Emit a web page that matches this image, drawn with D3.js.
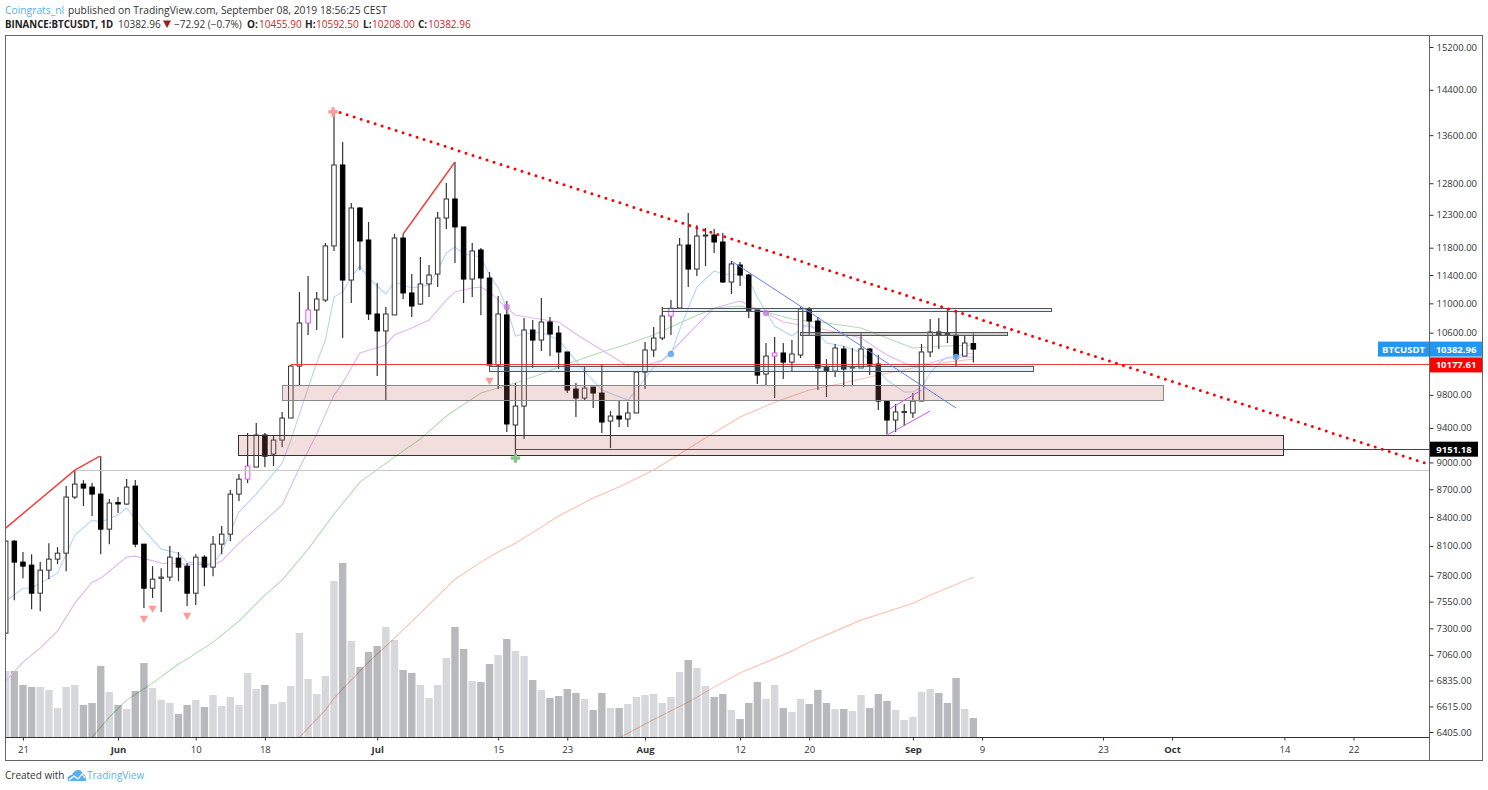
<!DOCTYPE html>
<html>
<head>
<meta charset="utf-8">
<script src="https://cdn.jsdelivr.net/npm/d3@7"></script>
<style>
  body { margin: 0; background: #fff; }
  text { font-family: "Open Sans", sans-serif; }
</style>
</head>
<body>
<div id="chart"></div>
<script>
// days are counted from May 19 2019 (day 0), Sep 8 is day 112
const opens = [7256,8149,7936,7906,7631,7856,7966,8026,8615,8757,8724,8647,8273,
  8555,8539,8735,8118,7679,7775,7787,7976,7896,7631,7986,7886,8118,8221,8647,8812,8947,9316,9095,9257,9518,10163,10730,10908,11046,11826,13098,11328,12406,11915,
  10853,10623,10840,11945,11145,10990,11272,11414,12250,12548,12113,11342,11766,11357,10176,10840,9435,9663,10636,10502,10744,10595,10345,9872,9761,9897,9823,9482,9542,9506,9579,
  10086,10371,10529,10826,10935,11840,11486,11975,11990,11885,11300,11545,11400,10908,10061,10292,10332,10214,10306,10922,10757,10150,10099,10384,10138,10138,10384,10189,9724,9494,9585,
  9579,9724,10345,10609,10596,10569,10292,10455.90];
const highs = [8159,8159,8037,8016,7936,8128,8087,8735,8913,8801,8768,9071,8593,
  8615,8812,8801,8118,7896,7876,8098,8037,7926,8016,8006,8201,8305,8691,8868,9339,9458,9339,9316,9591,10176,11159,11385,11159,11870,14005,13483,12485,12422,12189,
  11286,10949,12006,12006,11414,11662,11545,12344,12804,13147,12113,11870,11796,11443,11102,11032,9948,10798,10771,11074,10812,10690,10345,9948,10163,9897,10189,9603,9736,9712,10086,
  10476,10677,10949,11046,11945,12328,12143,12098,12082,12021,11603,11589,11414,10908,10463,10542,10463,10502,10949,10949,10812,10253,10450,10424,10397,10596,10397,10306,9724,9688,9688,
  9823,10450,10785,10798,10922,10908,10569,10592.50];
const lows = [7247,7564,7777,7479,7460,7767,7916,7846,8593,8518,8411,8016,8118,
  8443,8529,8087,7489,7583,7451,7747,7747,7508,7517,7699,7796,8016,8149,8571,8768,8947,8947,8958,9176,9518,9922,10569,10636,11018,11751,10529,11005,11472,10771,
  10036,9736,10840,11060,10812,10977,11088,11229,12082,11574,11005,11088,10840,10176,9872,9352,9071,9269,10138,10358,10292,10125,9823,9530,9736,9639,9339,9164,9411,9411,9579,
  9872,10279,10502,10569,10935,11229,11385,11530,11722,11286,11131,11243,10798,9935,9922,9761,9997,10086,10266,10569,9860,9773,10023,9897,9910,10138,10048,9615,9328,9352,9423,
  9518,9724,10279,10384,10463,10150,10292,10208];
const closes = [8149,7936,7896,7631,7856,7966,8026,8615,8757,8713,8647,8273,8550,
  8540,8724,8118,7679,7767,7787,7986,7886,7631,7986,7886,8118,8221,8647,8812,8958,9316,9071,9257,9518,10163,10730,10908,11060,11826,13098,11328,12406,11900,10853,
  10623,10853,11945,11145,10963,11272,11400,12250,12548,12113,11342,11751,11357,10176,10853,9447,9663,10636,10502,10744,10582,10345,9860,9761,9885,9823,9470,9542,9506,9579,10086,
  10371,10529,10826,10935,11840,11486,11975,11990,11885,11300,11560,11400,10894,10048,10292,10332,10214,10319,10922,10757,10138,10099,10397,10125,10150,10384,10176,9724,9494,9591,9597,
  9724,10345,10609,10569,10569,10292,10463,10382.96];
// volume, relative units
const volumes = [66,66,52,50,50,47,29,50,52,32,34,71,45,
  32,28,46,74,49,37,34,23,32,37,30,42,31,40,32,64,48,52,33,35,51,104,58,43,61,156,174,96,70,85,
  91,110,97,67,64,52,39,52,79,110,88,56,55,73,82,98,86,81,57,47,39,41,48,44,38,27,44,29,29,33,40,
  42,43,34,40,65,77,69,51,40,43,27,18,34,55,38,52,29,25,38,33,47,34,28,28,26,42,29,43,36,27,17,
  20,45,48,44,34,59,28,19];
const pinkCandles = [28, 35, 77, 89];

// moving averages as [day, price]
const blueMA = [[0,7554],[2,7679],[3,7679],[6,7826],[8,8211],[10,8368],[11,8347],[13,8422],[14,8497],[16,8263],[18,8067],[20,8026],[21,7936],[24,7916],[25,8037],[27,8454],[29,8647],[32,8992],[33,9257],[35,9885],[36,10202],[37,10502],[38,11088],[39,11159],[40,11371],[41,11530],[42,11357],[44,11131],[45,11300],[47,11215],[49,11257],[50,11472],[51,11722],[52,11811],[53,11707],[55,11662],[56,11400],[57,11215],[58,10935],[59,10556],[60,10582],[62,10609],[64,10502],[67,10099],[69,9860],[72,9736],[73,9860],[75,10150],[77,10319],[78,10636],[79,10935],[80,11229],[82,11458],[83,11414],[85,11400],[86,11328],[87,11088],[88,10880],[89,10690],[91,10556],[93,10730],[94,10596],[95,10463],[97,10424],[99,10332],[100,10240],[102,9985],[104,9835],[105,9835],[106,9897],[107,10074],[108,10202],[109,10279],[110,10279],[111,10332],[112,10319]];
const purpleMA = [[0,6830],[2,6995],[4,7120],[6,7275],[8,7536],[10,7738],[11,7777],[14,7986],[15,7996],[18,7926],[21,7916],[24,7906],[25,7946],[27,8128],[29,8284],[32,8529],[34,8936],[36,9328],[38,9798],[39,9948],[41,10332],[44,10437],[45,10569],[47,10663],[49,10771],[51,11046],[52,11159],[54,11215],[55,11229],[56,11159],[58,10935],[59,10840],[61,10798],[64,10744],[66,10582],[69,10371],[72,10163],[74,10163],[76,10240],[78,10463],[80,10703],[82,10935],[85,11032],[87,10922],[88,10867],[90,10744],[92,10703],[95,10636],[97,10582],[99,10529],[102,10306],[104,10202],[105,10163],[107,10202],[109,10266],[111,10279],[112,10279]];
const greenMA = [[10,6364],[12,6527],[14,6668],[17,6812],[20,6978],[21,7022],[24,7174],[27,7367],[30,7612],[32,7757],[35,8067],[38,8432],[41,8779],[45,9060],[48,9269],[51,9542],[55,9823],[59,9948],[62,10061],[64,10150],[69,10345],[72,10450],[75,10569],[78,10730],[82,10935],[85,10963],[88,10880],[91,10785],[95,10730],[99,10663],[102,10529],[105,10397],[107,10411],[109,10424],[112,10437]];
const salmonMA = [[34,6364],[37,6585],[38,6685],[40,6838],[42,6995],[45,7210],[48,7442],[52,7767],[55,7936],[57,8037],[59,8128],[62,8294],[64,8411],[68,8604],[71,8724],[75,8913],[78,9095],[81,9281],[85,9530],[88,9663],[90,9748],[93,9860],[97,9948],[101,10048],[105,10138],[109,10214],[112,10253]];
const salmonMA2 = [[71,6356],[74,6470],[79,6651],[82,6778],[85,6899],[91,7093],[93,7174],[99,7376],[105,7535],[107,7612],[112,7787]];

// drawings
const dottedTrend = [[37.9,14035],[164.3,8992]];
const redLeg1 = [[0,8284],[8,8913],[10.9,9071]];
const redLeg2 = [[46,12006],[52,13147]];
const blueTrend = [[84,11603],[110,9639]];
const purpleChannel1 = [[102,9316],[107,9603]];
const purpleChannel2 = [[102.3,9627],[106,9860]];
const pinkBoxes = [[27,148,9316,9083],[32,134,9922,9736]];
const blueBoxes = [[56,119,10163,10099],[76,121,10935,10900]];
const greyBoxes = [[92,116,10609,10569]];
const redLevel = [33, 10177.61];
const blackLevel = [59, 9151.18];
const greyLevel = [8, 8913];

const downMarks = [[16,7395],[17,7489],[21,7423],[56,9985]];
const purpleDots = [[58,10949],[88,10867]];
const blueDots = [[77,10319],[110,10279]];
const redCross = [38,14005];
const greenCross = [59,9049];

const yTicks = [15200,14400,13600,12800,12300,11800,11400,11000,10600,9800,9400,9000,8700,8400,8100,7800,7550,7300,7060,6835,6615,6405];
const xTickDays = [2,13,22,30,43,57,65,74,85,93,105,113,127,135,148,156];
const xTickLabels = ["21","Jun","10","18","Jul","15","23","Aug","12","20","Sep","9","23","Oct","14","22"];
const monthLabels = ["Jun","Jul","Aug","Sep","Oct"];

// Dimensions
const svgWidth = 1488;
const svgHeight = 790;
const paneLeft = 5.5;
const paneRight = 1429.5;
const paneTop = 35.5;
const paneBottom = 737.5;
const frameBottom = 760.5;
const frameRight = 1482.5;

const x = d3.scaleLinear().domain([0, 112]).range([5.68, 973.36]);
const y = d3.scaleLog().domain([6405, 15200]).range([732, 47]);
const yVol = d3.scaleLinear().domain([0, 174]).range([737, 563]);
const snap = (v) => Math.round(v - 0.5) + 0.5; // keeps thin lines on one pixel row

const svg = d3.select("#chart").append("svg")
  .attr("width", svgWidth)
  .attr("height", svgHeight)
  .style("display", "block");

svg.append("clipPath").attr("id", "pane").append("rect")
  .attr("x", paneLeft + 0.5).attr("y", paneTop)
  .attr("width", paneRight - paneLeft - 0.5).attr("height", paneBottom - paneTop);

// frame
svg.append("rect")
  .attr("x", paneLeft).attr("y", paneTop)
  .attr("width", frameRight - paneLeft).attr("height", frameBottom - paneTop)
  .attr("fill", "none").attr("stroke", "#666");

const pane = svg.append("g").attr("clip-path", "url(#pane)");
const days = d3.range(opens.length);

// Volume
pane.selectAll(".vol").data(days).enter().append("rect")
  .attr("x", (d) => x(d) - 3.7)
  .attr("width", 7.4)
  .attr("y", (d) => yVol(volumes[d]))
  .attr("height", (d) => yVol(0) - yVol(volumes[d]))
  .attr("fill", (d) => (closes[d] < opens[d] ? "#b8b9bd" : "#d7d8db"));

// Moving averages
const line = d3.line().x((d) => x(d[0])).y((d) => y(d[1]));
function drawLine(parent, data, color, width) {
  return parent.append("path")
    .attr("d", line(data))
    .attr("fill", "none")
    .attr("stroke", color)
    .attr("stroke-width", width);
}
drawLine(pane, salmonMA, "#fbc2b2", 1.1).style("mix-blend-mode", "multiply");
drawLine(pane, salmonMA2, "#fbc2b2", 1.1).style("mix-blend-mode", "multiply");
drawLine(pane, greenMA, "#b3dcb3", 1.1).style("mix-blend-mode", "multiply");
drawLine(pane, purpleMA, "#e0b8f2", 1.1);
drawLine(pane, blueMA, "#b6d6f8", 1.1);

// Candles
pane.selectAll(".wick").data(days).enter().append("line")
  .attr("x1", (d) => x(d)).attr("x2", (d) => x(d))
  .attr("y1", (d) => y(highs[d])).attr("y2", (d) => y(lows[d]))
  .attr("stroke", "#333").attr("stroke-width", 1.2);

pane.selectAll(".body").data(days).enter().append("rect")
  .attr("x", (d) => x(d) - 2.25)
  .attr("width", 4.5)
  .attr("y", (d) => y(Math.max(opens[d], closes[d])))
  .attr("height", (d) => Math.max(1, Math.abs(y(opens[d]) - y(closes[d]))))
  .attr("fill", (d) => (closes[d] < opens[d] ? "#000" : "#fff"))
  .attr("stroke", (d) => (pinkCandles.includes(d) ? "#e251f5" : closes[d] < opens[d] ? "#000" : "#333"));

// Level lines
function level(data, color, width) {
  pane.append("line")
    .attr("x1", x(data[0])).attr("x2", paneRight)
    .attr("y1", snap(y(data[1]))).attr("y2", snap(y(data[1])))
    .attr("stroke", color).attr("stroke-width", width);
}
level(greyLevel, "#c8c8c8", 1);
level(blackLevel, "#444", 1);
level(redLevel, "#ee3b3b", 1);

// Boxes
function boxes(data, fill, opacity, stroke) {
  pane.selectAll(null).data(data).enter().append("rect")
    .attr("x", (d) => snap(x(d[0])))
    .attr("width", (d) => Math.round(x(d[1]) - x(d[0])))
    .attr("y", (d) => snap(y(d[2])))
    .attr("height", (d) => Math.round(y(d[3]) - y(d[2])))
    .attr("fill", fill).attr("fill-opacity", opacity)
    .attr("stroke", stroke).attr("stroke-width", 1);
}
boxes(pinkBoxes.slice(0, 1), "#c46a66", 0.22, "#333");
boxes(pinkBoxes.slice(1), "#c46a66", 0.22, "#888");
boxes(blueBoxes, "#90caf9", 0.25, "#555");
boxes(greyBoxes, "#999", 0.5, "#555");

// Trend lines
drawLine(pane, redLeg1, "#f44040", 1.5);
drawLine(pane, redLeg2, "#f44040", 1.5);
drawLine(pane, blueTrend, "#5f7ff0", 1);
drawLine(pane, purpleChannel1, "#c45be8", 1);
drawLine(pane, purpleChannel2, "#c45be8", 1);
drawLine(pane, dottedTrend, "#f00", 3)
  .attr("stroke-linecap", "round")
  .attr("stroke-dasharray", "0 7.35");

// Markers
pane.selectAll(".down").data(downMarks).enter().append("path")
  .attr("d", d3.symbol().type(d3.symbolTriangle).size(30))
  .attr("transform", (d) => `translate(${x(d[0])},${y(d[1])}) rotate(180)`)
  .attr("fill", "#ff9a95");
pane.selectAll(".pdot").data(purpleDots).enter().append("circle")
  .attr("cx", (d) => x(d[0])).attr("cy", (d) => y(d[1])).attr("r", 3.2)
  .attr("fill", "#c77ddb").attr("fill-opacity", 0.8);
pane.selectAll(".bdot").data(blueDots).enter().append("circle")
  .attr("cx", (d) => x(d[0])).attr("cy", (d) => y(d[1])).attr("r", 3.2)
  .attr("fill", "#64a8ef").attr("fill-opacity", 0.9);
pane.append("path")
  .attr("d", d3.symbol().type(d3.symbolCross).size(50))
  .attr("transform", `translate(${x(redCross[0]) - 1},${y(redCross[1])})`)
  .attr("fill", "#ff9a96");
pane.append("path")
  .attr("d", d3.symbol().type(d3.symbolCross).size(50))
  .attr("transform", `translate(${x(greenCross[0])},${y(greenCross[1])})`)
  .attr("fill", "#86c58a");

// Axes
const yAxis = d3.axisRight(y).tickValues(yTicks).tickFormat(d3.format(".2f")).tickSize(4).tickPadding(3);
const yAxisG = svg.append("g").attr("transform", `translate(${paneRight},0)`).call(yAxis);
yAxisG.select(".domain").attr("d", `M0,${paneTop}V${frameBottom}`).attr("stroke", "#666");
yAxisG.selectAll("text").attr("font-size", 9.5).attr("fill", "#333").style("font-family", '"Open Sans", sans-serif');
yAxisG.selectAll("line").attr("stroke", "#333");

const xAxis = d3.axisBottom(x).tickValues(xTickDays).tickFormat((d, i) => xTickLabels[i]).tickSize(3).tickPadding(6);
const xAxisG = svg.append("g").attr("transform", `translate(0,${paneBottom})`).call(xAxis);
xAxisG.select(".domain").attr("d", `M${paneLeft},0H${paneRight}`).attr("stroke", "#333");
xAxisG.selectAll("text").attr("font-size", 9.5).attr("fill", "#333")
  .attr("font-weight", (d, i) => (monthLabels.includes(xTickLabels[i]) ? 700 : 400))
  .style("font-family", '"Open Sans", sans-serif');
xAxisG.selectAll("line").attr("stroke", "#333");

// Price tags
function tag(tx, tw, price, color, label) {
  const yy = y(price);
  svg.append("rect").attr("x", tx).attr("y", yy - 7.5).attr("width", tw).attr("height", 15).attr("fill", color);
  svg.append("text").attr("x", tx + tw / 2).attr("y", yy + 3.5)
    .attr("text-anchor", "middle").attr("font-size", 9.5).attr("font-weight", 700).attr("fill", "#fff").text(label);
}
tag(1378, 51, closes[112], "#2196f3", "BTCUSDT");
tag(1430, 52, closes[112], "#2196f3", d3.format(".2f")(closes[112]));
tag(1430, 52, redLevel[1], "#ff0000", d3.format(".2f")(redLevel[1]));
tag(1430, 48, blackLevel[1], "#000", d3.format(".2f")(blackLevel[1]));

// Header
const header = [
  [5, 14, "Coingrats_nl", "#53b1ee", 400, 10.3],
  [68, 14, "published on TradingView.com, September 08, 2019 18:56:25 CEST", "#333", 400, 10.3],
  [5, 28, "BINANCE:BTCUSDT, 1D", "#222", 700, 9.7],
  [118, 28, "10382.96", "#333", 400, 10],
  [174, 28, "\u221272.92 (\u22120.7%)", "#333", 400, 10],
  [247, 28, "O:", "#222", 700, 10],
  [259, 28, "10455.90", "#c62828", 400, 10],
  [305, 28, "H:", "#222", 700, 10],
  [316, 28, "10592.50", "#c62828", 400, 10],
  [363, 28, "L:", "#222", 700, 10],
  [372, 28, "10208.00", "#c62828", 400, 10],
  [418, 28, "C:", "#222", 700, 10],
  [428, 28, "10382.96", "#c62828", 400, 10],
];
svg.selectAll(".header").data(header).enter().append("text")
  .attr("x", (d) => d[0]).attr("y", (d) => d[1])
  .attr("fill", (d) => d[3]).attr("font-weight", (d) => d[4])
  .attr("font-size", (d) => d[5]).text((d) => d[2]);
svg.append("path").attr("d", "M163,20.5H171L167,28Z").attr("fill", "#a31c1c");

// Footer
svg.append("text").attr("x", 5).attr("y", 779).attr("font-size", 10).attr("fill", "#333").text("Created with");
svg.append("path")
  .attr("d", "M68,781c-1,-4 1,-6 4,-6c1,-3 3,-5 6,-5c3,0 4,2 5,4c2,0 3,3 3,7Z")
  .attr("fill", "#5ab0ee");
svg.append("path")
  .attr("d", "M69,780l5,-4l4,3l4,-5l3,4")
  .attr("fill", "none").attr("stroke", "#fff").attr("stroke-width", 1.2);
svg.append("text").attr("x", 87).attr("y", 779).attr("font-size", 10).attr("fill", "#5ab4ee").text("TradingView");
</script>
</body>
</html>
